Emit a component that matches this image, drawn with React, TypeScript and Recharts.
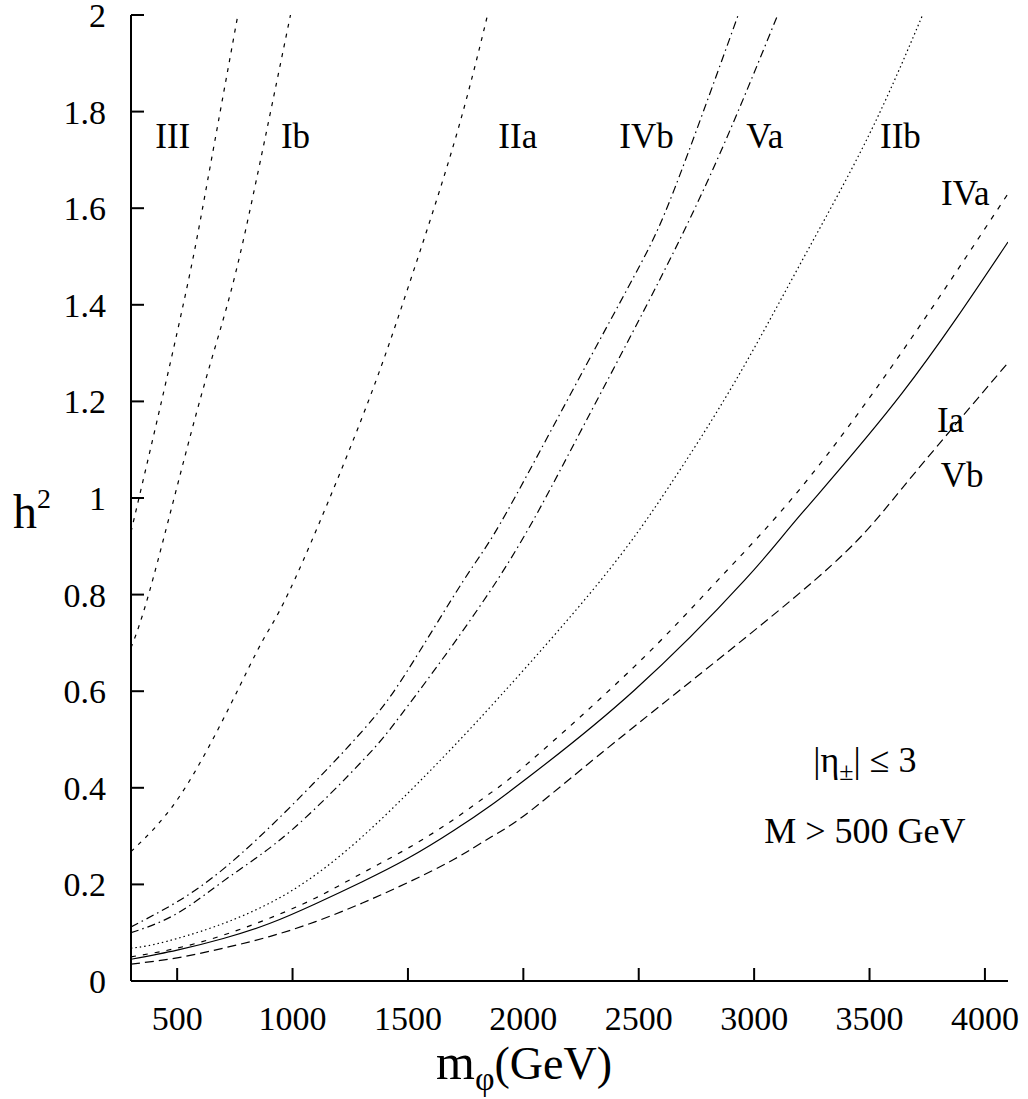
import { LineChart, Line, XAxis, YAxis, ReferenceDot } from "recharts";

const FONT = '"Liberation Serif", "Times New Roman", serif';

// axis ticks
const xTicks = [500, 1000, 1500, 2000, 2500, 3000, 3500, 4000];
const yTicks = [0, 0.2, 0.4, 0.6, 0.8, 1, 1.2, 1.4, 1.6, 1.8, 2];
const yTickText = ["0", "0.2", "0.4", "0.6", "0.8", "1", "1.2", "1.4", "1.6", "1.8", "2"];

// curves: m (GeV) -> h^2
const curveIII = [
  { m: 300, h: 0.93 }, { m: 437, h: 1.21 }, { m: 553, h: 1.46 }, { m: 633, h: 1.66 }, { m: 763, h: 2.0 },
];
const curveIb = [
  { m: 300, h: 0.69 }, { m: 396, h: 0.834 }, { m: 583, h: 1.175 }, { m: 727, h: 1.417 },
  { m: 843, h: 1.658 }, { m: 991, h: 2.0 },
];
const curveIIa = [
  { m: 300, h: 0.268 }, { m: 510, h: 0.382 }, { m: 727, h: 0.568 }, { m: 872, h: 0.706 },
  { m: 1012, h: 0.834 }, { m: 1300, h: 1.165 }, { m: 1500, h: 1.435 }, { m: 1700, h: 1.735 }, { m: 1845, h: 2.0 },
];
const curveIVb = [
  { m: 300, h: 0.112 }, { m: 500, h: 0.164 }, { m: 713, h: 0.237 }, { m: 1000, h: 0.365 },
  { m: 1307, h: 0.52 }, { m: 1500, h: 0.644 }, { m: 1742, h: 0.83 }, { m: 1901, h: 0.948 },
  { m: 2191, h: 1.203 }, { m: 2481, h: 1.46 }, { m: 2655, h: 1.64 }, { m: 2931, h: 2.0 },
];
const curveVa = [
  { m: 300, h: 0.1 }, { m: 500, h: 0.14 }, { m: 727, h: 0.216 }, { m: 1000, h: 0.314 },
  { m: 1307, h: 0.458 }, { m: 1500, h: 0.57 }, { m: 1887, h: 0.83 }, { m: 2191, h: 1.086 },
  { m: 2481, h: 1.35 }, { m: 2800, h: 1.658 }, { m: 3102, h: 2.0 },
];
const curveIIb = [
  { m: 300, h: 0.068 }, { m: 500, h: 0.088 }, { m: 1000, h: 0.188 }, { m: 1500, h: 0.389 },
  { m: 1900, h: 0.59 }, { m: 2336, h: 0.83 }, { m: 2626, h: 1.02 }, { m: 2916, h: 1.24 },
  { m: 3206, h: 1.49 }, { m: 3496, h: 1.75 }, { m: 3730, h: 2.0 },
];
const curveIVa = [
  { m: 300, h: 0.05 }, { m: 500, h: 0.068 }, { m: 700, h: 0.095 }, { m: 900, h: 0.13 },
  { m: 1100, h: 0.172 }, { m: 1300, h: 0.223 }, { m: 1500, h: 0.275 }, { m: 1700, h: 0.335 },
  { m: 1860, h: 0.39 }, { m: 2030, h: 0.455 }, { m: 2481, h: 0.651 }, { m: 2843, h: 0.83 },
  { m: 3206, h: 1.023 }, { m: 3641, h: 1.303 }, { m: 4100, h: 1.63 },
];
const curveIa = [
  { m: 300, h: 0.045 }, { m: 500, h: 0.064 }, { m: 700, h: 0.088 }, { m: 900, h: 0.119 },
  { m: 1100, h: 0.16 }, { m: 1300, h: 0.205 }, { m: 1500, h: 0.254 }, { m: 1700, h: 0.312 },
  { m: 1860, h: 0.364 }, { m: 2030, h: 0.425 }, { m: 2481, h: 0.602 }, { m: 2959, h: 0.83 },
  { m: 3206, h: 0.968 }, { m: 3641, h: 1.217 }, { m: 4100, h: 1.53 },
];
const curveVb = [
  { m: 300, h: 0.035 }, { m: 500, h: 0.048 }, { m: 700, h: 0.068 }, { m: 900, h: 0.092 },
  { m: 1100, h: 0.123 }, { m: 1300, h: 0.161 }, { m: 1500, h: 0.204 }, { m: 1700, h: 0.252 },
  { m: 1860, h: 0.298 }, { m: 2030, h: 0.352 }, { m: 2481, h: 0.527 }, { m: 3263, h: 0.83 },
  { m: 3641, h: 1.02 }, { m: 4100, h: 1.28 },
];

const curves = [
  { id: "III", data: curveIII, dash: "4 6" },
  { id: "Ib", data: curveIb, dash: "4 6" },
  { id: "IIa", data: curveIIa, dash: "4 6" },
  { id: "IVb", data: curveIVb, dash: "8 4 1.5 4" },
  { id: "Va", data: curveVa, dash: "8 4 1.5 4" },
  { id: "IIb", data: curveIIb, dash: "1.5 3" },
  { id: "IVa", data: curveIVa, dash: "5 7" },
  { id: "Ia", data: curveIa, dash: undefined },
  { id: "Vb", data: curveVb, dash: "9 5" },
];

// curve labels (data coords of text baseline centre)
const curveLabels = [
  { text: "III", m: 481, h: 1.725 },
  { text: "Ib", m: 1013, h: 1.725 },
  { text: "IIa", m: 1976, h: 1.725 },
  { text: "IVb", m: 2534, h: 1.725 },
  { text: "Va", m: 3046, h: 1.725 },
  { text: "IIb", m: 3634, h: 1.725 },
  { text: "IVa", m: 3915, h: 1.607 },
  { text: "Ia", m: 3851, h: 1.137 },
  { text: "Vb", m: 3901, h: 1.023 },
];

function BottomTick({ x, y, payload }: any) {
  return (
    <g>
      <line x1={x} x2={x} y1={y} y2={y - 13} stroke="#000" strokeWidth={2} />
      <text x={x} y={y + 49} textAnchor="middle" fontSize={34} fontFamily={FONT} fill="#000">
        {payload.value}
      </text>
    </g>
  );
}

function TopTick({ x, y }: any) {
  return <line x1={x} x2={x} y1={y} y2={y + 13} stroke="#000" strokeWidth={2} />;
}

function LeftTick({ x, y, payload, index }: any) {
  return (
    <g>
      <line x1={x} x2={x + 13} y1={y} y2={y} stroke="#000" strokeWidth={2} />
      <text x={x - 25} y={y + 12} textAnchor="end" fontSize={34} fontFamily={FONT} fill="#000">
        {yTickText[index] ?? payload.value}
      </text>
    </g>
  );
}

function RightTick({ x, y }: any) {
  return <line x1={x} x2={x - 13} y1={y} y2={y} stroke="#000" strokeWidth={2} />;
}

function XTitle() {
  return (
    <text x={436} y={1079} fontFamily={FONT} fill="#000" fontSize={50}>
      m
      <tspan fontSize={34} dy={11}>φ</tspan>
      <tspan fontSize={46} dy={-11}>(GeV)</tspan>
    </text>
  );
}

function YTitle() {
  return (
    <text x={13} y={528} fontFamily={FONT} fill="#000" fontSize={48}>
      h
      <tspan fontSize={28} dy={-20}>2</tspan>
    </text>
  );
}

export default function App() {
  return (
    <div style={{ position: "absolute", left: 0, top: 0, background: "#fff" }}>
      <LineChart width={1028} height={1099} margin={{ top: 15, right: 20, left: 0, bottom: 0 }}>
        <XAxis
          xAxisId="b"
          type="number"
          dataKey="m"
          domain={[300, 4100]}
          allowDataOverflow
          ticks={xTicks}
          interval={0}
          height={118}
          tickSize={0}
          tickMargin={0}
          tickLine={false}
          axisLine={{ stroke: "#000", strokeWidth: 2 }}
          tick={<BottomTick />}
          label={{ content: <XTitle /> }}
        />
        <XAxis
          xAxisId="t"
          orientation="top"
          type="number"
          dataKey="m"
          domain={[300, 4100]}
          allowDataOverflow
          ticks={xTicks}
          interval={0}
          height={0}
          tickSize={0}
          tickMargin={0}
          tickLine={false}
          axisLine={{ stroke: "#000", strokeWidth: 2 }}
          tick={<TopTick />}
        />
        <YAxis
          yAxisId="l"
          type="number"
          domain={[0, 2]}
          allowDataOverflow
          ticks={yTicks}
          interval={0}
          width={131}
          tickSize={0}
          tickMargin={0}
          tickLine={false}
          axisLine={{ stroke: "#000", strokeWidth: 2 }}
          tick={<LeftTick />}
          label={{ content: <YTitle /> }}
        />
        <YAxis
          yAxisId="r"
          orientation="right"
          type="number"
          domain={[0, 2]}
          allowDataOverflow
          ticks={yTicks}
          interval={0}
          width={0}
          tickSize={0}
          tickMargin={0}
          tickLine={false}
          axisLine={{ stroke: "#000", strokeWidth: 2 }}
          tick={<RightTick />}
        />
        {curves.map((c) => (
          <Line
            key={c.id}
            xAxisId="b"
            yAxisId="l"
            data={c.data}
            dataKey="h"
            type="natural"
            stroke="#000"
            strokeWidth={1.2}
            strokeDasharray={c.dash}
            dot={false}
            activeDot={false}
            isAnimationActive={false}
          />
        ))}
        {curveLabels.map((l) => (
          <ReferenceDot
            key={l.text}
            xAxisId="b"
            yAxisId="l"
            x={l.m}
            y={l.h}
            r={0}
            shape={(p: any) => (
              <text x={p.cx} y={p.cy} textAnchor="middle" fontSize={35} fontFamily={FONT} fill="#000">
                {l.text}
              </text>
            )}
          />
        ))}
        <ReferenceDot
          xAxisId="b"
          yAxisId="l"
          x={3480}
          y={0.433}
          r={0}
          shape={(p: any) => (
            <text x={p.cx} y={p.cy} textAnchor="middle" fontSize={36} fontFamily={FONT} fill="#000">
              |η
              <tspan fontSize={26} dy={8}>±</tspan>
              <tspan dy={-8}>| ≤ 3</tspan>
            </text>
          )}
        />
        <ReferenceDot
          xAxisId="b"
          yAxisId="l"
          x={3480}
          y={0.286}
          r={0}
          shape={(p: any) => (
            <text x={p.cx} y={p.cy} textAnchor="middle" fontSize={36} fontFamily={FONT} fill="#000">
              M &gt; 500 GeV
            </text>
          )}
        />
      </LineChart>
    </div>
  );
}
